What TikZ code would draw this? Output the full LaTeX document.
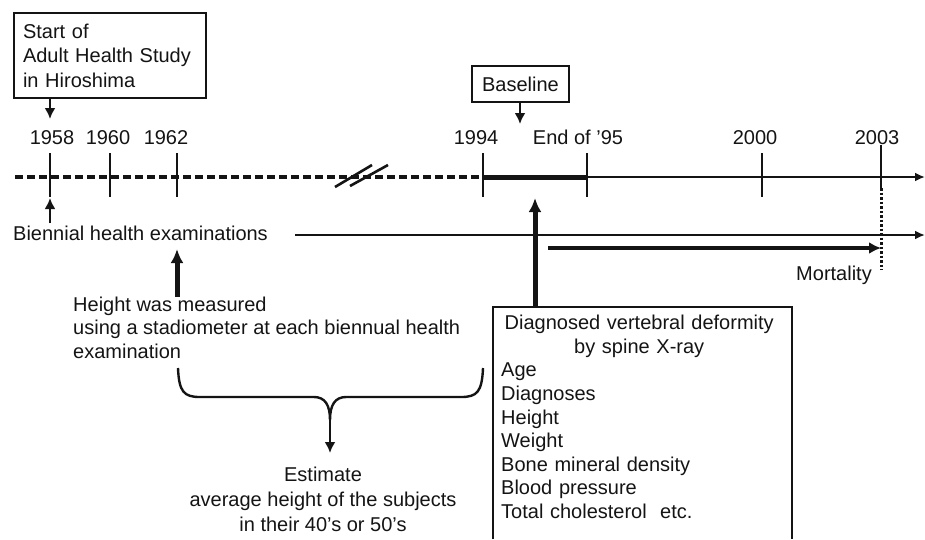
\documentclass[tikz,border=0pt]{standalone}
\usepackage{fontspec}
\setmainfont{Liberation Sans}
\usepackage{tikz}
\usetikzlibrary{arrows.meta,positioning,calc}
\definecolor{ink}{HTML}{141414}
\tikzset{
  txt/.style={font=\fontsize{20}{23.6}\selectfont,text=ink,inner sep=0pt},
  box/.style={txt,draw=ink,line width=2pt,align=left},
  arr/.style={-{Latex[length=11pt,width=11pt]},line width=2.6pt,draw=ink},
  fat/.style={-{Latex[length=14pt,width=13pt]},line width=5pt,draw=ink},
  thin/.style={-{Latex[length=10pt,width=9pt]},line width=2.4pt,draw=ink},
  tick/.style={line width=2.4pt,draw=ink},
  past/.style={line width=3.4pt,draw=ink,dash pattern=on 8pt off 4pt},
  brk/.style={line width=2.6pt,draw=ink},
  frame/.style={line width=2pt,draw=ink}
}

\begin{document}
\begin{tikzpicture}[x=1pt,y=-1pt]
  \useasboundingbox (0,0) rectangle (925,539);

  \coordinate (t58) at (50,177);  \coordinate (t60) at (110,177);
  \coordinate (t62) at (177,177); \coordinate (t94) at (483,177);
  \coordinate (t95) at (587,177); \coordinate (t00) at (762,177);
  \coordinate (t03) at (881,177); \coordinate (tend) at (925,177);

  \draw[past] (15,177) -- (t94);
  \draw[line width=5pt,draw=ink] (t94) -- (t95);
  \draw[thin] (t95) -- (tend);
  \foreach \t in {t58,t60,t62,t94,t95,t00}
    \draw[tick] ($(\t)+(0,-24)$) -- ($(\t)+(0,20)$);
  \draw[tick] ($(t03)+(0,-32)$) -- ($(t03)+(0,11)$);
  \draw[line width=3pt,draw=ink,dash pattern=on 2.5pt off 2pt] ($(t03)+(0,11)$) -- ($(t03)+(0,93)$);
  \draw[brk] (335,187) -- (372,165);
  \draw[brk] (350,186) -- (388,165);

  \node[txt,anchor=base] (y58) at (52,144) {1958};
  \node[txt,anchor=base] (y60) at (108,144) {1960};
  \node[txt,anchor=base] (y62) at (166,144) {1962};
  \node[txt,anchor=base] (y94) at (476,144) {1994};
  \node[txt,anchor=base] (y95) at (578,144) {End of '95};
  \node[txt,anchor=base] (y00) at (755,144) {2000};
  \node[txt,anchor=base] (y03) at (877,144) {2003};

  \node[box,anchor=north west,minimum width=192pt,minimum height=85pt,text width=174pt,
    inner xsep=9pt,font=\fontsize{20}{24.5}\selectfont] (start) at (13,12)
    {Start of\\Adult Health Study\\in Hiroshima};
  \coordinate (s58) at (50,119);
  \draw[arr] (start.south -| s58) -- (s58);

  \node[box,align=center,minimum width=97pt,minimum height=36pt] (base) at (520.5,84) {Baseline};
  \coordinate (b95) at (520,124);
  \draw[arr] (base.south -| b95) -- (b95);

  \node[txt,anchor=base west,inner sep=2pt] (bien) at (11,240) {Biennial health examinations};
  \coordinate (bl0) at (295,235); \coordinate (bl1) at (925,235);
  \draw[thin] (bl0) -- (bl1);
  \draw[arr] (bien.north -| t58) -- ($(t58)+(0,21)$);

  \coordinate (m0) at (548,248); \coordinate (m1) at (881,248);
  \draw[-{Latex[length=12pt,width=12pt]},line width=4.4pt,draw=ink] (m0) -- (m1);
  \node[txt,anchor=base east] (mort) at (872,280) {Mortality};

  \node[txt,anchor=north west,align=left,font=\fontsize{20}{23.6}\selectfont] (hgt) at (73,296.5)
    {Height was measured\\using a stadiometer at each biennual health\\examination};
  \coordinate (h62) at (177,249);
  \draw[fat] (hgt.north -| h62) -- (h62);

  \coordinate (bl) at (178,368); \coordinate (br) at (483,368);
  \coordinate (bm) at (330,420); \coordinate (be) at (330,453);
  \draw[line width=2.4pt,draw=ink] (bl) .. controls (179,392) and (184,397) .. (200,397) -- (314,397)
    .. controls (325,397) and (330,405) .. (bm)
    .. controls (330,405) and (335,397) .. (346,397) -- (461,397)
    .. controls (477,397) and (482,392) .. (br);
  \draw[arr] (bm) -- (be);
  \node[txt,anchor=north,align=center,font=\fontsize{20}{24.8}\selectfont] (est) at (323,467)
    {Estimate\\average height of the subjects\\in their 40's or 50's};

  \node[txt,anchor=north west,align=left,text width=283pt] (diag) at (501,315)
    {\makebox[276pt][c]{Diagnosed vertebral deformity}\\
     \makebox[276pt][c]{by spine X-ray}\\
     Age\\Diagnoses\\Height\\Weight\\Bone mineral density\\Blood pressure\\Total cholesterol\ \ etc.};
  \coordinate (dnw) at (493,307); \coordinate (dne) at (792,307);
  \draw[frame] (dnw |- 0,539) -- (dnw) -- (dne) -- (dne |- 0,539);
  \coordinate (d95) at (535,198);
  \draw[fat] (dnw -| d95) -- (d95);
\end{tikzpicture}
\end{document}
